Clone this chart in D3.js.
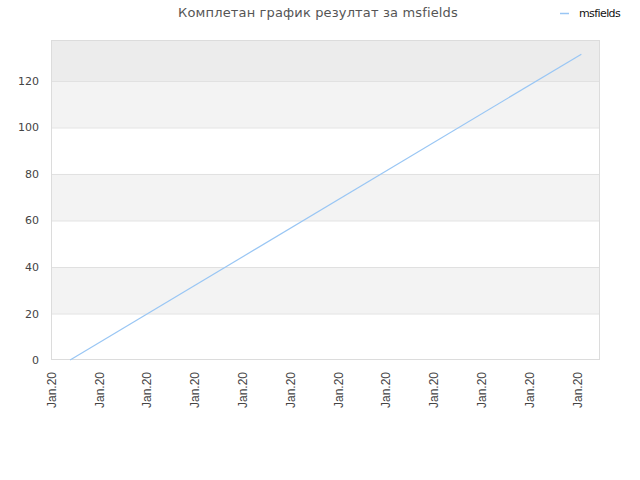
<!DOCTYPE html>
<html><head><meta charset="utf-8">
<script src="https://cdn.jsdelivr.net/npm/d3@7"></script>
<style>body{margin:0;background:#fff;} svg{display:block;font-family:"DejaVu Sans",sans-serif;}</style>
</head><body>
<svg id="c" width="640" height="480"></svg>
<script>
const title = "Комплетан график резултат за msfields";
const seriesName = "msfields";
const tickLabels = ["Jan.20","Jan.20","Jan.20","Jan.20","Jan.20","Jan.20","Jan.20","Jan.20","Jan.20","Jan.20","Jan.20","Jan.20"];
const xValues = [0.4, 11.09];
const yValues = [0, 131.5];
const yTicks = [0, 20, 40, 60, 80, 100, 120];

const svg = d3.select("#c");
const L = 51, R = 600, T = 40, B = 360;
const x = d3.scaleLinear().domain([0, 11.48]).range([L, R]);
const y = d3.scaleLinear().domain([0, 137.6]).range([B, T]);

// bands
const bands = [[20,40,"#f3f3f3"],[60,80,"#f3f3f3"],[100,120,"#f3f3f3"],[120,137.6,"#ececec"]];
svg.selectAll("rect.band").data(bands).enter().append("rect")
  .attr("x", L).attr("width", R - L)
  .attr("y", d => y(d[1])).attr("height", d => y(d[0]) - y(d[1]))
  .attr("fill", d => d[2]);

// grid
svg.selectAll("line.grid").data(yTicks.slice(1)).enter().append("line")
  .attr("x1", L).attr("x2", R).attr("y1", d => y(d) + 0.5).attr("y2", d => y(d) + 0.5)
  .attr("stroke", "#e0e0e0");

// frame
svg.append("rect").attr("x", L + 0.5).attr("y", T + 0.5).attr("width", R - L - 1).attr("height", B - T - 1)
  .attr("fill", "none").attr("stroke", "#dcdcdc");

// y axis
const yAxis = d3.axisLeft(y).tickValues(yTicks).tickSize(0).tickPadding(12);
const yg = svg.append("g").attr("transform", `translate(${L},0)`).call(yAxis);
yg.select(".domain").remove();
yg.selectAll("text").attr("fill", "#444").style("font-size", "11px").style("font-family", "DejaVu Sans");

// x axis
const xAxis = d3.axisBottom(x).tickValues(d3.range(tickLabels.length)).tickFormat(i => tickLabels[i]).tickSize(0);
const xg = svg.append("g").attr("transform", `translate(0,${B})`).call(xAxis);
xg.select(".domain").remove();
xg.selectAll("text")
  .attr("transform", "rotate(-90)")
  .attr("text-anchor", "end")
  .attr("x", -12).attr("y", 0).attr("dy", "0.35em")
  .attr("fill", "#444").style("font-size", "12px").style("font-family", "Liberation Sans");

// line
const pts = xValues.map((v, i) => [v, yValues[i]]);
svg.append("path").datum(pts)
  .attr("d", d3.line().x(d => x(d[0])).y(d => y(d[1])))
  .attr("fill", "none").attr("stroke", "#99c6f4").attr("stroke-width", 1.2);

// title
svg.append("text").attr("x", 318).attr("y", 17).attr("text-anchor", "middle")
  .attr("fill", "#555").style("font-size", "13px").style("letter-spacing", "0.15px").style("font-family", "DejaVu Sans").text(title);

// legend
svg.append("line").attr("x1", 560).attr("x2", 569).attr("y1", 13.5).attr("y2", 13.5)
  .attr("stroke", "#99c6f4").attr("stroke-width", 1.5);
svg.append("text").attr("x", 579).attr("y", 17).attr("fill", "#111")
  .style("font-size", "11px").style("font-family", "DejaVu Sans").style("letter-spacing", "-0.6px").text(seriesName);
</script>
</body></html>
